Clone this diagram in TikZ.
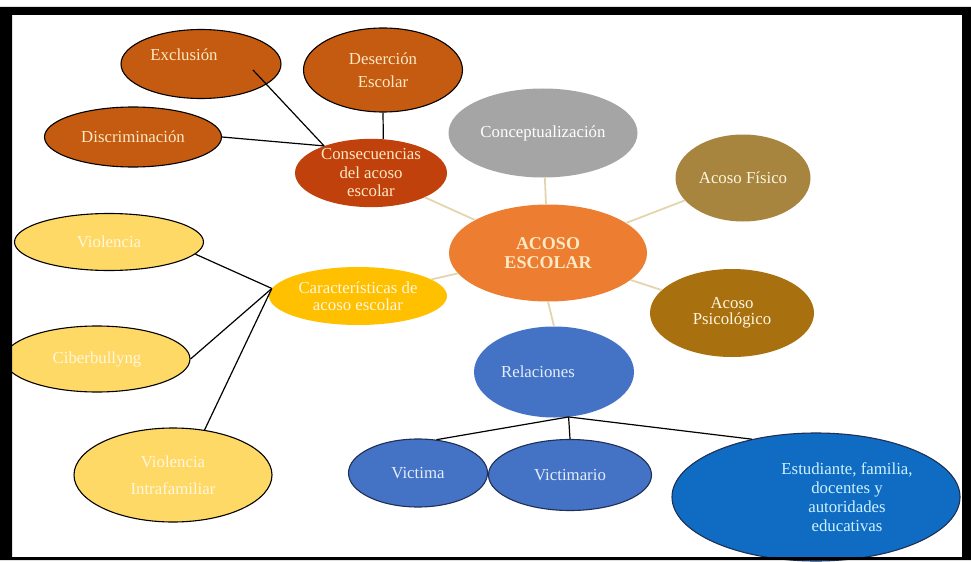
\documentclass[tikz,border=0pt]{standalone}
\usepackage{fontspec}
\setmainfont{Liberation Serif}
\usetikzlibrary{positioning,shapes}
\definecolor{rust}{HTML}{C55A11}
\definecolor{deeprust}{HTML}{C0410B}
\definecolor{coreorange}{HTML}{ED7D31}
\definecolor{greybubble}{HTML}{A5A5A5}
\definecolor{olive}{HTML}{A7853F}
\definecolor{darkgold}{HTML}{A8700F}
\definecolor{amber}{HTML}{FFC000}
\definecolor{paleamber}{HTML}{FFD966}
\definecolor{steel}{HTML}{4472C4}
\definecolor{deepblue}{HTML}{0F6CC2}
\definecolor{navy}{HTML}{1F2F55}
\definecolor{cream}{HTML}{FDE9C4}
\definecolor{palecream}{HTML}{FFF6DE}
\definecolor{iceblue}{HTML}{E3EEFA}
\definecolor{cyanish}{HTML}{CDF2FF}
\definecolor{spokecol}{HTML}{E3D6AE}
\tikzset{
     bubble node/.style={ellipse, inner sep=0pt, align=center, font=\fontsize{16.8}{18.5}\selectfont},
     rust node/.style={bubble node, draw=black, line width=1.1pt, fill=rust, text=cream},
     dims/.style 2 args={minimum width=#1pt, minimum height=#2pt},
     gold node/.style={bubble node, draw=black, line width=1.1pt, fill=paleamber, text=palecream},
     blue node/.style={bubble node, draw=navy, line width=1.1pt, fill=steel, text=iceblue},
     lbl/.style={font=\fontsize{16.8}{19}\selectfont, align=center, inner sep=0pt},
     linkedge/.style={black, line width=1.2pt},
     spokeedge/.style={spokecol, line width=1.8pt},
    }
\begin{document}
\begin{tikzpicture}[x=1pt,y=-1pt,on grid]
        \fill[white] (0,0) rectangle (971,560);
        % centre and spokes
        \node [bubble node, dims={198}{97}, fill=coreorange, text=cream, font=\bfseries\fontsize{18}{19.5}\selectfont] (acoso) at (548,253) {ACOSO\\ESCOLAR};
        \node [bubble node, dims={189}{89}, fill=greybubble, text=white] (concept) [above left=120pt and 5pt of acoso] {Conceptualización};
        \node [bubble node, dims={135}{87}, fill=olive, text=palecream] (fisico) [above right=75pt and 195pt of acoso] {Acoso Físico};
        \node [bubble node, dims={164}{88}, fill=darkgold, text=palecream, font=\fontsize{16.8}{16.5}\selectfont] (psico) [below right=60pt and 184pt of acoso] {Acoso\\Psicológico};
        \node [bubble node, dims={160}{91}, fill=steel, label={[lbl, text=iceblue, xshift=-16pt]center:Relaciones}] (rel) [below right=119pt and 6pt of acoso] {};
        \node [bubble node, dims={152}{63}, fill=deeprust, text=cream] (cons) [above left=80pt and 177pt of acoso] {Consecuencias\\del acoso\\escolar};
        \node [bubble node, dims={178}{58}, fill=amber, text=palecream, font=\fontsize{16.8}{16.5}\selectfont] (char) [below left=43pt and 190pt of acoso] {Características de\\acoso escolar};
        % consequences
        \node [rust node, dims={160}{69}, label={[lbl, text=cream, xshift=-17pt, yshift=9pt]center:Exclusión}] (excl) [above left=109pt and 170pt of cons] {};
        \node [rust node, dims={159}{84}] (deser) [above right=103pt and 12pt of cons] {Deserción\\[5pt]Escolar};
        \node [rust node, dims={177}{60}] (discr) [above left=36pt and 238pt of cons] {Discriminación};
        % characteristics
        \node [gold node, dims={189}{57}] (viol) [above left=54pt and 249pt of char] {Violencia};
        \node [gold node, dims={186}{66}] (cib) [below left=63pt and 261pt of char] {Ciberbullyng};
        \node [gold node, dims={198}{94}] (intra) [below left=179pt and 185pt of char] {Violencia\\[9pt]Intrafamiliar};
        % relations
        \node [blue node, dims={139}{68}] (victima) [below left=101pt and 136pt of rel] {Victima};
        \node [blue node, dims={163}{71}] (vmario) [below right=103pt and 16pt of rel] {Victimario};
        \node [blue node, dims={288}{128}, fill=deepblue, label={[lbl, text=cyanish, xshift=31pt]center:Estudiante, familia,\\docentes y\\autoridades\\educativas}] (estud) [below right=125pt and 262pt of rel] {};
        \coordinate (exclin) at (253,70);
        \path[spokeedge]
        (acoso) edge (concept)
        (acoso) edge (fisico)
        (acoso) edge (psico)
        (acoso.south) edge (rel.north)
        (acoso) edge (cons)
        (acoso) edge (char);
        \path[linkedge]
        (exclin) edge (cons.150)
        (discr.east) edge (cons.150)
        (deser.south) edge (cons.70)
        (viol.-8) edge (char.175)
        (cib.east) edge (char.175)
        (intra.55) edge (char.175)
        (rel.-72) edge (victima.61)
        (rel.-72) edge (vmario.north)
        (rel.-72) edge (estud.138);
        % frame
        \fill[black, even odd rule] (0,7) rectangle (971,560) (12,15) rectangle (962,557);
    \end{tikzpicture}
\end{document}
